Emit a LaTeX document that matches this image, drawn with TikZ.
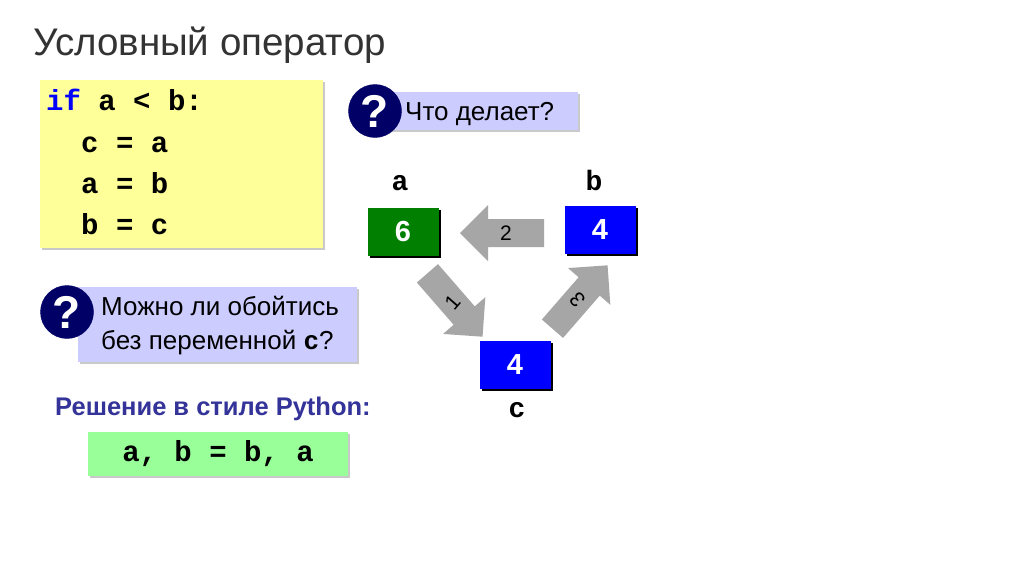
\documentclass[tikz,border=0pt]{standalone}
\usepackage{fontspec}
\setmainfont{Liberation Sans}
\setmonofont{Liberation Mono}
\usetikzlibrary{shadows}
\definecolor{navy}{HTML}{000066}
\definecolor{lav}{HTML}{CCCCFF}
\definecolor{yel}{HTML}{FFFF99}
\definecolor{grn}{HTML}{99FF99}
\definecolor{dgreen}{HTML}{007F00}
\definecolor{pblue}{HTML}{0000FF}
\definecolor{arr}{HTML}{A6A6A6}
\definecolor{head}{HTML}{333399}
\tikzset{
  shad/.style={drop shadow={shadow xshift=2pt,shadow yshift=-2pt,fill=black!35,opacity=.6}},
  code/.style={font=\ttfamily\bfseries\fontsize{29}{30}\selectfont,anchor=base west},
  qbox/.style={fill=lav,shad},
  qmark/.style={circle,fill=navy,draw=navy,minimum size=53pt,inner sep=0pt,text=white,font=\bfseries\fontsize{46}{46}\selectfont},
  qtext/.style={font=\fontsize{26}{30}\selectfont,anchor=base west},
  var/.style={minimum width=71pt,minimum height=48pt,inner sep=0pt,text=white,font=\bfseries\fontsize{29}{29}\selectfont,drop shadow={shadow xshift=2pt,shadow yshift=-2pt,fill=black,opacity=1}},
  vlab/.style={font=\ttfamily\bfseries\fontsize{28}{28}\selectfont},
  alab/.style={font=\fontsize{21}{21}\selectfont}
}
\newcommand{\blockarr}[4]{%
  \begin{scope}[shift={(#1)},rotate=#2]
    \fill[arr] (-42,-14) -- (14,-14) -- (14,-28) -- (42,0) -- (14,28) -- (14,14) -- (-42,14) -- cycle;
    \node[alab,rotate=#3] at (-4,0) {#4};
  \end{scope}}
\begin{document}
\begin{tikzpicture}[x=1pt,y=-1pt]
\useasboundingbox (0,0) rectangle (1024,574);
\fill[white] (0,0) rectangle (1024,574);
\node[anchor=base west,inner sep=0pt,text=black!80,font=\fontsize{38.5}{38.5}\selectfont] (title) at (33,55) {Условный оператор};
% code box
\fill[yel,shad] (40,80) rectangle (323,248);
\node[code,inner sep=0pt] (l1) at (46,110) {\textcolor{pblue}{if} a < b:};
\node[code,inner sep=0pt] (l2) at (81,152) {c = a};
\node[code,inner sep=0pt] (l3) at (81,193) {a = b};
\node[code,inner sep=0pt] (l4) at (81,234) {b = c};
% question 1
\fill[qbox] (385,92) rectangle (578,130);
\node[qmark] (q1) at (375,111) {?};
\node[qtext,inner sep=0pt] (t1) at (405,120) {Что делает?};
% question 2
\fill[qbox] (78,287) rectangle (357,362);
\node[qmark] (q2) at (67,312) {?};
\node[qtext,inner sep=0pt] (t2) at (101,315) {Можно ли обойтись};
\node[qtext,inner sep=0pt] (t3) at (101,349) {без переменной {\ttfamily\bfseries c}?};
% solution
\node[anchor=base west,inner sep=0pt,text=head,font=\bfseries\fontsize{25.5}{25.5}\selectfont] (sol) at (55,415) {Решение в стиле Python:};
\fill[grn,shad] (88,432) rectangle (348,476);
\node[font=\ttfamily\bfseries\fontsize{29}{29}\selectfont] (ans) at (218,454) {a, b = b, a};
% variables
\node[var,fill=dgreen] (a) at (403,232) {6};
\node[var,fill=pblue] (b) at (600,230) {4};
\node[var,fill=pblue] (c) at (515,365) {4};
\node[vlab] (la) at (400,183) {a};
\node[vlab] (lb) at (594,180) {b};
\node[vlab] (lc) at (517,410) {c};
% arrows
\blockarr{502,233}{180}{0}{2}
\blockarr{455,305}{-49}{49}{1}
\blockarr{580,297}{49}{131}{3}
\end{tikzpicture}
\end{document}
